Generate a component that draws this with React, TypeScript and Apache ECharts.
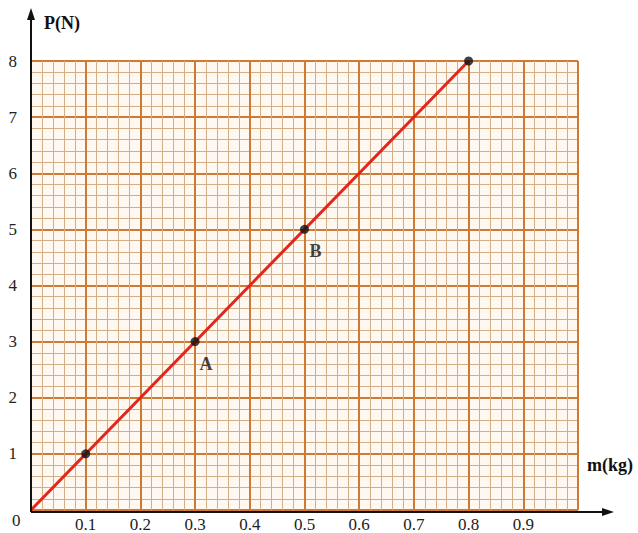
import React, { useEffect, useRef } from "react";
import * as echarts from "echarts";

const lineData: [number, number][] = [[0, 0], [0.8, 8]];
const pointData: [number, number][] = [[0.1, 1], [0.3, 3], [0.5, 5], [0.8, 8]];
const pointLabels = [
  { name: "A", value: [0.3, 3] as [number, number] },
  { name: "B", value: [0.5, 5] as [number, number] },
];
const xTickLabels = ["0.1", "0.2", "0.3", "0.4", "0.5", "0.6", "0.7", "0.8", "0.9"];
const yTickLabels = ["1", "2", "3", "4", "5", "6", "7", "8"];

const FONT = "Liberation Serif";
const MAJOR = "#cf7a32";
const MINOR = "#d4ae88";

export default function App() {
  const ref = useRef<HTMLDivElement>(null);
  useEffect(() => {
    document.body.style.margin = "0";
    if (!ref.current) return;
    const chart = echarts.init(ref.current, undefined, { renderer: "svg" });
    const L = 31, T = 61, R = 60, B = 21;
    const H = 533;
    const x0 = L, y0 = H - B;
    chart.setOption({
      animation: false,
      grid: {
        left: L, top: T, right: R, bottom: B,
        show: true, backgroundColor: "#fff8f0", borderWidth: 0,
      },
      xAxis: {
        type: "value", min: 0, max: 1, interval: 0.1,
        axisLine: { show: false },
        axisTick: { show: false },
        axisLabel: {
          margin: 6, fontFamily: FONT, fontSize: 17, color: "#222",
          formatter: (v: number) => {
            const s = v.toFixed(1);
            return xTickLabels.includes(s) ? s : "";
          },
        },
        splitLine: { show: true, lineStyle: { color: MAJOR, width: 2 } },
        minorTick: { show: false, splitNumber: 5 },
        minorSplitLine: { show: true, lineStyle: { color: MINOR, width: 1 } },
      },
      yAxis: {
        type: "value", min: 0, max: 8, interval: 1,
        axisLine: { show: false },
        axisTick: { show: false },
        axisLabel: {
          margin: 14, fontFamily: FONT, fontSize: 17, color: "#222",
          formatter: (v: number) => {
            const s = String(Math.round(v));
            return yTickLabels.includes(s) ? s : "";
          },
        },
        splitLine: { show: true, lineStyle: { color: MAJOR, width: 2 } },
        minorTick: { show: false, splitNumber: 5 },
        minorSplitLine: { show: true, lineStyle: { color: MINOR, width: 1 } },
      },
      series: [
        {
          type: "line", data: lineData, symbol: "none",
          lineStyle: { color: "#e3261c", width: 3 }, z: 5,
        },
        {
          type: "scatter", data: pointData, symbolSize: 9,
          itemStyle: { color: "#111" }, z: 6,
        },
        {
          type: "scatter", data: pointLabels, symbolSize: 0, z: 6,
          label: {
            show: true, formatter: "{b}", position: "bottom", distance: 13,
            offset: [11, 0],
            fontFamily: FONT, fontSize: 18, fontWeight: "bold", color: "#111",
          },
        },
      ],
      graphic: [
        { type: "line", shape: { x1: x0, y1: y0, x2: x0, y2: 16 }, style: { stroke: "#111", lineWidth: 2 }, z: 10 },
        { type: "polygon", shape: { points: [[x0, 8], [x0 - 4, 20], [x0 + 4, 20]] }, style: { fill: "#111" }, z: 10 },
        { type: "line", shape: { x1: x0, y1: y0, x2: 606, y2: y0 }, style: { stroke: "#111", lineWidth: 2 }, z: 10 },
        { type: "polygon", shape: { points: [[614, y0], [602, y0 - 4], [602, y0 + 4]] }, style: { fill: "#111" }, z: 10 },
        { type: "text", x: 44, y: 14, style: { text: "P(N)", fontFamily: FONT, fontSize: 18, fontWeight: "bold", fill: "#111" } },
        { type: "text", x: 587, y: 456, style: { text: "m(kg)", fontFamily: FONT, fontSize: 18, fontWeight: "bold", fill: "#111" } },
        { type: "text", x: 12, y: 512, style: { text: "0", fontFamily: FONT, fontSize: 17, fill: "#222" } },
      ],
    });
    return () => chart.dispose();
  }, []);
  return <div ref={ref} style={{ width: 638, height: 533 }} />;
}
